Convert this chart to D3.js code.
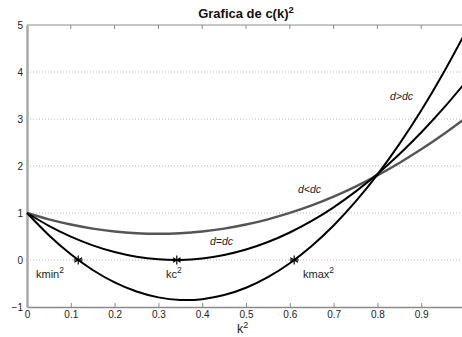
<!DOCTYPE html>
<html>
<head>
<meta charset="utf-8">
<script src="https://cdn.jsdelivr.net/npm/d3@7"></script>
<style>
  html, body { margin: 0; padding: 0; background: #fff; }
  svg { display: block; font-family: "Liberation Sans", Arial, sans-serif; }
</style>
</head>
<body>
<svg id="chart" width="462" height="337"></svg>
<script>
// k^2 sample positions
const k2 = [0, 0.05, 0.10, 0.15, 0.20, 0.25, 0.30, 0.35, 0.40, 0.45, 0.50,
            0.55, 0.60, 0.65, 0.70, 0.75, 0.80, 0.85, 0.90, 0.95, 1.00];
// c(k)^2 for d > dc
const cAbove = [1.00, 0.526, 0.121, -0.213, -0.477, -0.671, -0.795, -0.849, -0.833, -0.746, -0.590,
                -0.364, -0.068, 0.299, 0.735, 1.242, 1.818, 2.465, 3.181, 3.968, 4.825];
// c(k)^2 for d = dc
const cCrit = [1.00, 0.727, 0.498, 0.312, 0.170, 0.070, 0.014, 0.001, 0.031, 0.105, 0.222,
               0.382, 0.585, 0.831, 1.121, 1.454, 1.830, 2.250, 2.713, 3.219, 3.768];
// c(k)^2 for d < dc
const cBelow = [1.00, 0.865, 0.755, 0.668, 0.606, 0.569, 0.557, 0.569, 0.606, 0.668, 0.755,
                0.866, 1.001, 1.160, 1.347, 1.561, 1.800, 2.065, 2.355, 2.670, 3.010];
// marked zero crossings
const markNames = ["kmin", "kc", "kmax"];
const markK2 = [0.117, 0.342, 0.61];
const markC = [0, 0, 0];
const xTicks = [0, 0.1, 0.2, 0.3, 0.4, 0.5, 0.6, 0.7, 0.8, 0.9];
const yTicks = [-1, 0, 1, 2, 3, 4, 5];

const svg = d3.select("#chart");
const x = d3.scaleLinear().domain([0, 1]).range([27, 465]);
const y = d3.scaleLinear().domain([-1, 5]).range([307, 25]);

// horizontal dotted grid
svg.append("g").selectAll("line").data(yTicks.filter(v => v > -1 && v < 5)).join("line")
  .attr("x1", x(0)).attr("x2", x(1))
  .attr("y1", d => y(d)).attr("y2", d => y(d))
  .attr("stroke", "#b8b8b8").attr("stroke-width", 1).attr("stroke-dasharray", "1,2");

// box lines
const boxColor = "#8a8a8a";
svg.append("line").attr("x1", x(0)).attr("x2", x(1)).attr("y1", y(5)).attr("y2", y(5))
  .attr("stroke", boxColor).attr("stroke-width", 1);

// bottom axis with inward ticks
const xAxis = d3.axisBottom(x).tickValues(xTicks).tickSizeInner(-4).tickSizeOuter(0)
  .tickPadding(4).tickFormat(d => d === 0 ? "0" : d3.format(".1f")(d));
const gx = svg.append("g").attr("transform", `translate(0,${y(-1)})`).call(xAxis);
gx.select(".domain").attr("stroke", boxColor).attr("stroke-width", 1.5);
gx.selectAll(".tick line").attr("stroke", boxColor);
gx.selectAll("text").attr("font-size", 10).attr("fill", "#222")
  .attr("font-family", "Liberation Sans, Arial, sans-serif");

// top ticks
svg.append("g").selectAll("line").data(xTicks.slice(1)).join("line")
  .attr("x1", d => x(d)).attr("x2", d => x(d)).attr("y1", y(5)).attr("y2", y(5) + 4)
  .attr("stroke", boxColor);

// left axis
const yAxis = d3.axisLeft(y).tickValues(yTicks).tickSizeInner(0).tickSizeOuter(0)
  .tickPadding(4).tickFormat(d3.format("d"));
const gy = svg.append("g").attr("transform", `translate(${x(0)},0)`).call(yAxis);
gy.select(".domain").attr("stroke", "#a8a8a8").attr("stroke-width", 2.5);
gy.selectAll("text").attr("font-size", 10).attr("fill", "#222")
  .attr("font-family", "Liberation Sans, Arial, sans-serif");

// curves
const line = (vals) => d3.line().x((d, i) => x(k2[i])).y(d => y(d)).curve(d3.curveNatural)(vals);
svg.append("path").attr("d", line(cBelow)).attr("fill", "none")
  .attr("stroke", "#555").attr("stroke-width", 2.4);
svg.append("path").attr("d", line(cCrit)).attr("fill", "none")
  .attr("stroke", "#000").attr("stroke-width", 2);
svg.append("path").attr("d", line(cAbove)).attr("fill", "none")
  .attr("stroke", "#000").attr("stroke-width", 2);

// star markers
const marks = svg.append("g");
markK2.forEach((v, i) => {
  const cx = x(v), cy = y(markC[i]);
  const r = 4.5;
  [0, 60, 120].forEach(a => {
    const t = a * Math.PI / 180;
    marks.append("line")
      .attr("x1", cx - r * Math.sin(t)).attr("y1", cy - r * Math.cos(t))
      .attr("x2", cx + r * Math.sin(t)).attr("y2", cy + r * Math.cos(t))
      .attr("stroke", "#000").attr("stroke-width", 1.2);
  });
  marks.append("line").attr("x1", cx - r).attr("x2", cx + r).attr("y1", cy).attr("y2", cy)
    .attr("stroke", "#000").attr("stroke-width", 1.2);
});

// point labels
const labelPos = [[36, 278], [166, 278], [303, 278]];
markNames.forEach((n, i) => {
  const t = svg.append("text").attr("x", labelPos[i][0]).attr("y", labelPos[i][1])
    .attr("font-size", 11).attr("fill", "#222");
  t.append("tspan").text(n);
  t.append("tspan").attr("dy", -5).attr("font-size", 8.5).text("2");
});

// curve labels
const curveLabels = [["d>dc", 390, 100], ["d<dc", 298, 193], ["d=dc", 210, 245]];
curveLabels.forEach(([s, lx, ly]) => {
  svg.append("text").attr("x", lx).attr("y", ly).attr("font-size", 10.5)
    .attr("font-style", "italic").attr("fill", "#222").text(s);
});

// title
const title = svg.append("text").attr("x", 246).attr("y", 18).attr("text-anchor", "middle")
  .attr("font-size", 13).attr("font-weight", "bold").attr("fill", "#111");
title.append("tspan").text("Grafica de c(k)");
title.append("tspan").attr("dy", -5).attr("font-size", 9.5).text("2");

// x axis label
const xl = svg.append("text").attr("x", 237).attr("y", 333).attr("font-size", 12.5).attr("fill", "#222");
xl.append("tspan").text("k");
xl.append("tspan").attr("dy", -5).attr("font-size", 9).text("2");
</script>
</body>
</html>
